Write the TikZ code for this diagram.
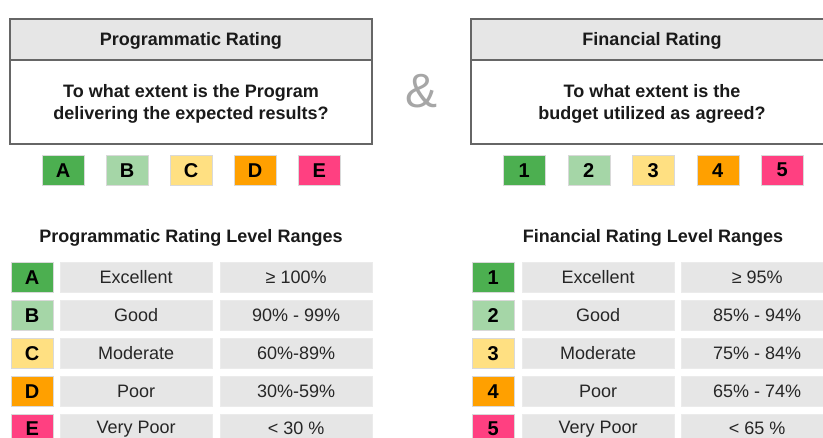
\documentclass[tikz,border=0pt]{standalone}
\usepackage{fontspec}
\setmainfont{Liberation Sans}
\definecolor{cA}{HTML}{4CAF50}
\definecolor{cB}{HTML}{A5D6A7}
\definecolor{cC}{HTML}{FFE082}
\definecolor{cD}{HTML}{FFA000}
\definecolor{cE}{HTML}{FF4081}
\definecolor{hdr}{HTML}{E6E6E6}
\definecolor{cell}{HTML}{E6E6E6}
\definecolor{bord}{HTML}{666666}
\definecolor{amp}{HTML}{A6A6A6}
\definecolor{txt}{HTML}{1A1A1A}
\begin{document}
\begin{tikzpicture}[x=1pt,y=-1pt,
  txtstyle/.style={font=\fontsize{18}{21.5}\selectfont, text=txt},
  framebox/.style={draw=bord, line width=1.2pt},
  badge/.style={minimum width=42pt, minimum height=30pt, inner sep=0pt, anchor=north west,
    font=\fontsize{20}{20}\selectfont\bfseries, text=black, draw=white!85!black, line width=0.4pt},
  cellbox/.style={minimum width=152pt, minimum height=30pt, inner sep=0pt, anchor=north west,
    fill=cell, draw=white!92!black, line width=0.4pt, txtstyle, text=black!85},
  heading/.style={txtstyle, font=\fontsize{18}{21.5}\selectfont\bfseries}
]
\useasboundingbox (0,0) rectangle (823,437);
\clip (0,0) rectangle (823,437);
\fill[white] (0,0) rectangle (823,437);

% ---- Programmatic box
\path[fill=hdr] (10,19) rectangle (372,60);
\draw[framebox] (10,19) rectangle (372,144);
\draw[framebox] (10,60) -- (372,60);
\node[heading] (ph) at (191,41) {Programmatic Rating};
\node[heading, align=center] (pq) at (191,104) {To what extent is the Program\\delivering the expected results?};

% ---- Financial box
\path[fill=hdr] (471,19) rectangle (833,60);
\draw[framebox] (471,19) rectangle (833,144);
\draw[framebox] (471,60) -- (833,60);
\node[heading] (fh) at (652,41) {Financial Rating};
\node[heading, align=center] (fq) at (652,104) {To what extent is the\\budget utilized as agreed?};

% ampersand
\node[font=\fontsize{48}{48}\selectfont, text=amp] (amp) at (422,91) {\&};

% ---- badges row
\node[badge, fill=cA] (bA) at (42,155) {A};
\node[badge, fill=cB] (bB) at (106,155) {B};
\node[badge, fill=cC] (bC) at (170,155) {C};
\node[badge, fill=cD] (bD) at (234,155) {D};
\node[badge, fill=cE] (bE) at (298,155) {E};

\node[badge, fill=cA] (b1) at (503,155) {1};
\node[badge, fill=cB] (b2) at (567.5,155) {2};
\node[badge, fill=cC] (b3) at (632,155) {3};
\node[badge, fill=cD] (b4) at (696.5,155) {4};
\node[badge, fill=cE] (b5) at (761,155) {5};

% ---- titles
\node[heading] (pt) at (191,238) {Programmatic Rating Level Ranges};
\node[heading] (ft) at (653,238) {Financial Rating Level Ranges};

% ---- left table
\node[badge, fill=cA] (lA) at (11,262) {A};
\node[badge, fill=cB] (lB) at (11,300) {B};
\node[badge, fill=cC] (lC) at (11,338) {C};
\node[badge, fill=cD] (lD) at (11,376) {D};
\node[badge, fill=cE] (lE) at (11,413.5) {E};

\node[cellbox] (lA2) at (60,262) {Excellent};
\node[cellbox] (lB2) at (60,300) {Good};
\node[cellbox] (lC2) at (60,338) {Moderate};
\node[cellbox] (lD2) at (60,376) {Poor};
\node[cellbox] (lE2) at (60,413.5) {Very Poor};

\node[cellbox] (lA3) at (220,262) {≥ 100\%};
\node[cellbox] (lB3) at (220,300) {90\% - 99\%};
\node[cellbox] (lC3) at (220,338) {60\%-89\%};
\node[cellbox] (lD3) at (220,376) {30\%-59\%};
\node[cellbox] (lE3) at (220,413.5) {< 30 \%};

% ---- right table
\node[badge, fill=cA] (r1) at (472,262) {1};
\node[badge, fill=cB] (r2) at (472,300) {2};
\node[badge, fill=cC] (r3) at (472,338) {3};
\node[badge, fill=cD] (r4) at (472,376) {4};
\node[badge, fill=cE] (r5) at (472,413.5) {5};

\node[cellbox] (r12) at (522,262) {Excellent};
\node[cellbox] (r22) at (522,300) {Good};
\node[cellbox] (r32) at (522,338) {Moderate};
\node[cellbox] (r42) at (522,376) {Poor};
\node[cellbox] (r52) at (522,413.5) {Very Poor};

\node[cellbox] (r13) at (681,262) {≥ 95\%};
\node[cellbox] (r23) at (681,300) {85\% - 94\%};
\node[cellbox] (r33) at (681,338) {75\% - 84\%};
\node[cellbox] (r43) at (681,376) {65\% - 74\%};
\node[cellbox] (r53) at (681,413.5) {< 65 \%};
\end{tikzpicture}
\end{document}
